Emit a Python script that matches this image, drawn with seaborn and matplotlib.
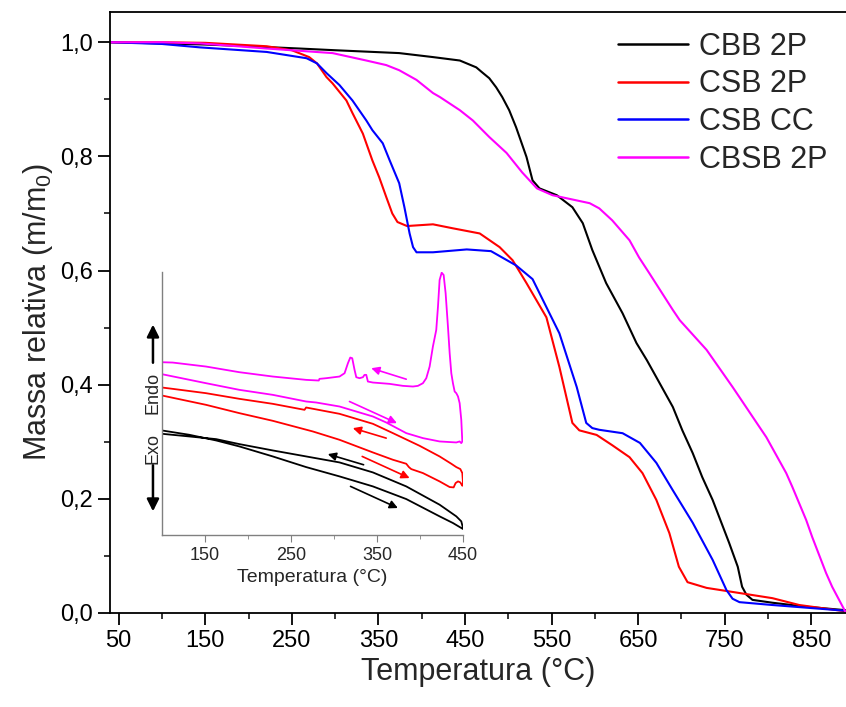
import numpy as np
import pandas as pd
import seaborn as sns
import matplotlib.pyplot as plt

# TGA curves (temperature in °C, relative mass)
cbb_t = [40, 100, 150, 200, 259, 300, 374, 413, 444, 463, 470, 478, 486, 493, 501, 509, 515, 521, 528, 536,
         556, 574, 586, 597, 613, 632, 648, 660, 671, 690, 701, 713, 724, 736, 755, 765, 770, 775, 782, 805,
         844, 889]
cbb_m = [1.0, 0.998, 0.996, 0.993, 0.989, 0.986, 0.981, 0.974, 0.968, 0.956, 0.947, 0.937, 0.921, 0.904,
         0.881, 0.851, 0.825, 0.799, 0.758, 0.744, 0.732, 0.711, 0.683, 0.636, 0.578, 0.525, 0.473, 0.443,
         0.413, 0.361, 0.32, 0.28, 0.238, 0.198, 0.123, 0.081, 0.046, 0.032, 0.023, 0.018, 0.011, 0.005]

csb2p_t = [40, 100, 150, 221, 250, 270, 279, 290, 297, 313, 320, 332, 343, 351, 359, 366, 372, 383, 413, 436,
           467, 490, 505, 521, 544, 559, 574, 582, 602, 620, 640, 655, 671, 686, 697, 707, 729, 767, 805, 836,
           889]
csb2p_m = [1.0, 1.0, 0.999, 0.993, 0.986, 0.974, 0.963, 0.939, 0.928, 0.898, 0.876, 0.84, 0.793, 0.763,
           0.729, 0.70, 0.685, 0.678, 0.681, 0.674, 0.665, 0.641, 0.618, 0.578, 0.518, 0.431, 0.333, 0.32,
           0.312, 0.294, 0.273, 0.245, 0.198, 0.14, 0.081, 0.054, 0.044, 0.035, 0.026, 0.014, 0.003]

csbcc_t = [40, 100, 144, 221, 267, 279, 290, 305, 320, 336, 343, 355, 363, 374, 380, 386, 390, 394, 413, 452,
           480, 509, 528, 559, 579, 590, 597, 605, 632, 652, 671, 690, 713, 736, 752, 759, 767, 805, 889]
csbcc_m = [1.0, 0.997, 0.991, 0.983, 0.972, 0.963, 0.946, 0.925, 0.898, 0.863, 0.846, 0.823, 0.793, 0.753,
           0.711, 0.665, 0.641, 0.632, 0.632, 0.637, 0.634, 0.609, 0.585, 0.49, 0.396, 0.333, 0.324, 0.321,
           0.315, 0.298, 0.263, 0.215, 0.158, 0.093, 0.04, 0.025, 0.019, 0.014, 0.004]

cbsb_t = [40, 100, 144, 221, 297, 336, 359, 374, 394, 413, 421, 444, 459, 478, 498, 516, 533, 551, 594, 605,
          620, 628, 640, 651, 663, 690, 698, 729, 759, 767, 790, 798, 821, 828, 844, 851, 867, 874, 889]
cbsb_m = [1.0, 1.0, 0.998, 0.989, 0.981, 0.968, 0.96, 0.951, 0.934, 0.911, 0.904, 0.881, 0.863, 0.834,
          0.806, 0.772, 0.744, 0.732, 0.718, 0.709, 0.688, 0.674, 0.653, 0.623, 0.595, 0.531, 0.513, 0.461,
          0.396, 0.378, 0.326, 0.308, 0.245, 0.221, 0.163, 0.133, 0.07, 0.046, 0.003]

# DSC loops for the inset (heating then cooling, arbitrary units)
dsc_cbsb_t = [100, 151.2, 190, 228.8, 267.6, 279.3, 306.4, 345.2, 360.7, 384, 403.4, 422.8, 442.2, 446.1, 448,
              449.2, 448, 446.1, 444.2, 442.2, 440.3, 438.3, 436.4, 434.5, 432.5, 429.8, 427.5, 425.2, 422.8,
              420.9, 418.9, 415, 411.2, 407.3, 403.4, 397.6, 391.8, 380.1, 364.6, 345.2, 339.4, 337.5, 335.5,
              333.6, 329.7, 325.9, 323.9, 321.2, 318.9, 316.2, 312.3, 306.4, 290.9, 283.1, 282.3, 267.6, 228.8,
              190, 151.2, 112.4, 100]
dsc_cbsb_y = [4.83, 4.56, 4.36, 4.21, 4.01, 3.98, 3.86, 3.56, 3.38, 3.06, 2.91, 2.81, 2.78, 2.81, 2.76,
              2.81, 3.46, 3.96, 4.16, 4.26, 4.31, 4.56, 4.86, 5.46, 6.26, 7.26, 7.81, 7.88, 7.66,
              6.86, 6.16, 5.66, 5.06, 4.71, 4.56, 4.48, 4.46, 4.48, 4.54, 4.58, 4.61, 4.81, 4.81,
              4.74, 4.71, 4.74, 4.96, 5.31, 5.33, 5.16, 4.86, 4.76, 4.71, 4.69, 4.64, 4.66, 4.76,
              4.89, 5.06, 5.18, 5.19]

dsc_csb_t = [100, 151.2, 190, 228.8, 275.4, 306.4, 345.2, 368.5, 384, 387.1, 389.8, 403.4, 422.8, 434.5, 439.1,
             441.4, 444.2, 446.9, 449.2, 450,
             450, 449.2, 446.9, 442.2, 436.4, 422.8, 399.5, 368.5, 345.2, 306.4, 267.6, 265.7, 228.8, 190,
             151.2, 112.4, 100]
dsc_csb_y = [4.19, 3.91, 3.66, 3.43, 3.11, 2.86, 2.48, 2.26, 2.14, 2.04, 1.98, 1.86, 1.61, 1.44, 1.43,
             1.56, 1.61, 1.58, 1.48, 1.51,
             1.56, 1.86, 1.98, 2.04, 2.14, 2.36, 2.68, 3.06, 3.34, 3.64, 3.83, 3.76, 3.94, 4.09,
             4.26, 4.39, 4.43]

dsc_cbb_t = [100, 131.8, 162.9, 190, 228.8, 267.6, 306.4, 345.2, 384, 422.8, 438.3, 450,
             450, 448, 442.2, 422.8, 384, 345.2, 306.4, 267.6, 228.8, 190, 162.9, 131.8, 100]
dsc_cbb_y = [3.14, 3.01, 2.84, 2.66, 2.36, 2.04, 1.76, 1.46, 1.08, 0.56, 0.36, 0.18,
             0.21, 0.41, 0.56, 0.91, 1.46, 1.88, 2.18, 2.36, 2.54, 2.73, 2.88, 2.96, 3.04]

# direction arrows in the inset: (tail T, tail y, head T, head y)
arrows_cbsb = [(384, 4.68, 343.3, 5.01), (318, 4.01, 373.2, 3.36)]
arrows_csb = [(360.7, 2.91, 321.9, 3.21), (332.8, 2.36, 387.9, 1.71)]
arrows_cbb = [(334.4, 2.11, 292.8, 2.43), (319.2, 1.46, 374.3, 0.81)]

labels = ['CBB 2P', 'CSB 2P', 'CSB CC', 'CBSB 2P']
colors = ['black', '#ff0000', '#0000ff', '#ff00ff']
yticks = [0, 0.2, 0.4, 0.6, 0.8, 1.0]
ytick_labels = ['0,0', '0,2', '0,4', '0,6', '0,8', '1,0']
xticks = [50, 150, 250, 350, 450, 550, 650, 750, 850]
inset_xticks = [150, 250, 350, 450]

sns.set_style('ticks')
plt.rcParams['font.family'] = ['Liberation Sans', 'DejaVu Sans']
plt.rcParams['mathtext.default'] = 'regular'

fig = plt.figure(figsize=(8.46, 7.07), dpi=100)
ax = fig.add_axes([110 / 846, 94 / 707, 736 / 846, 601 / 707])

tga = [(cbb_t, cbb_m), (csb2p_t, csb2p_m), (csbcc_t, csbcc_m), (cbsb_t, cbsb_m)]
for (t, m), lab, c in zip(tga, labels, colors):
    sns.lineplot(x=t, y=m, ax=ax, color=c, lw=1.5, label=lab, sort=False, estimator=None)

ax.set_xlim(40, 890)
ax.set_ylim(0, 1.053)
ax.set_xticks(xticks)
ax.set_xticks(np.arange(100, 900, 100), minor=True)
ax.set_yticks(yticks)
ax.set_yticklabels(ytick_labels)
ax.set_yticks([0.1, 0.3, 0.5, 0.7, 0.9], minor=True)
ax.tick_params(which='major', direction='out', length=8.5, width=1.3, labelsize=17, colors='black')
ax.tick_params(which='minor', direction='out', length=4, width=1.3)
ax.set_xlabel('Temperatura (°C)', fontsize=22)
ax.set_ylabel('Massa relativa (m/m$_0$)', fontsize=22)
for s in ['left', 'bottom', 'top']:
    ax.spines[s].set_linewidth(1.3)
    ax.spines[s].set_color('black')
ax.spines['right'].set_visible(False)

leg = ax.legend(loc='upper left', bbox_to_anchor=(0.69, 0.967), frameon=False, fontsize=22,
                handlelength=2.3, handletextpad=0.35, labelspacing=0.25, borderpad=0, borderaxespad=0)
for h in leg.get_lines():
    h.set_linewidth(1.8)

# inset: DSC
axin = fig.add_axes([162 / 846, 172 / 707, 301 / 846, 263 / 707])
axin.patch.set_alpha(0)
dsc = [(dsc_cbb_t, dsc_cbb_y, arrows_cbb, colors[0]),
       (dsc_csb_t, dsc_csb_y, arrows_csb, colors[1]),
       (dsc_cbsb_t, dsc_cbsb_y, arrows_cbsb, colors[3])]
for t, y, arr, c in dsc:
    sns.lineplot(x=t, y=y, ax=axin, color=c, lw=1.3, sort=False, estimator=None)
    for x0, y0, x1, y1 in arr:
        axin.annotate('', xy=(x1, y1), xytext=(x0, y0),
                      arrowprops=dict(arrowstyle='-|>', color=c, lw=1.2, mutation_scale=12,
                                      shrinkA=0, shrinkB=0))

axin.set_xlim(100, 450)
axin.set_ylim(0, 7.9)
axin.set_xticks(inset_xticks)
axin.set_xticks([200, 300, 400], minor=True)
axin.set_yticks([])
axin.tick_params(which='both', direction='out', color='#808080', labelsize=13)
axin.tick_params(which='major', length=5)
axin.tick_params(which='minor', length=3)
axin.set_xlabel('Temperatura (°C)', fontsize=14)
for s in ['top', 'right']:
    axin.spines[s].set_visible(False)
for s in ['left', 'bottom']:
    axin.spines[s].set_color('#808080')
    axin.spines[s].set_linewidth(1.0)

axin.text(-0.03, 0.54, 'Endo', transform=axin.transAxes, rotation=90, ha='center', va='center', fontsize=13)
axin.text(-0.03, 0.33, 'Exo', transform=axin.transAxes, rotation=90, ha='center', va='center', fontsize=13)
axin.annotate('', xy=(-0.03, 0.80), xytext=(-0.03, 0.655), xycoords='axes fraction',
              arrowprops=dict(arrowstyle='-|>', color='black', lw=1.8, mutation_scale=18, shrinkA=0, shrinkB=0))
axin.annotate('', xy=(-0.03, 0.09), xytext=(-0.03, 0.265), xycoords='axes fraction',
              arrowprops=dict(arrowstyle='-|>', color='black', lw=1.8, mutation_scale=18, shrinkA=0, shrinkB=0))

plt.savefig('out.png', dpi=100)
